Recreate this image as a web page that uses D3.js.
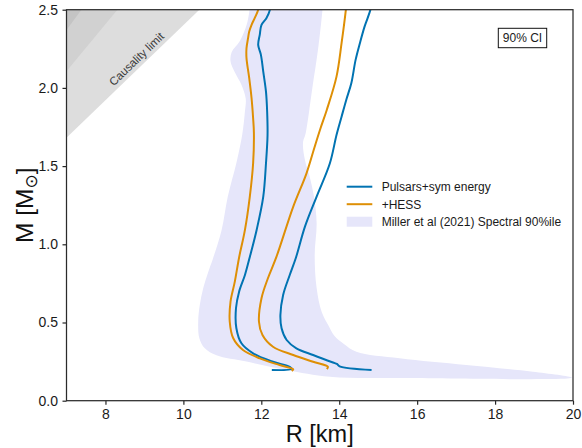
<!DOCTYPE html>
<html>
<head>
<meta charset="utf-8">
<script src="https://cdn.jsdelivr.net/npm/d3@7"></script>
<style>
  body { margin: 0; background: #fff; }
  svg { display: block; font-family: "Liberation Sans", Arial, sans-serif; }
</style>
</head>
<body>
<svg id="chart" width="582" height="448"></svg>
<script>
// Neutron-star mass–radius constraints. R in km, M in solar masses.
const xTicks = [8, 10, 12, 14, 16, 18, 20];
const yTicks = [0.0, 0.5, 1.0, 1.5, 2.0, 2.5];

// Compactness limits, R = factor * GM/c^2 (GM_sun/c^2 in km)
const rgSun = 1.4766;
const limitFactors = [2.82, 2.25, 2.0];
const limitFills = ["#dddddd", "#d1d1d1", "#c4c4c4"];
const limitLabel = "Causality limit";
const limitLabelAt = [8.795, 2.185];

// Miller et al (2021) spectral 90% region (closed outline)
const millerBand = [
  [11.75, 2.60], [11.70, 2.50], [11.62, 2.40], [11.45, 2.30], [11.24, 2.23], [11.21, 2.17],
  [11.32, 2.10], [11.49, 2.02], [11.60, 1.93], [11.58, 1.85], [11.51, 1.70], [11.36, 1.52],
  [11.14, 1.305], [10.98, 1.09], [10.76, 0.91], [10.64, 0.825], [10.51, 0.72], [10.42, 0.61],
  [10.38, 0.505], [10.41, 0.40], [10.55, 0.335], [10.85, 0.29], [11.62, 0.25], [12.65, 0.196],
  [13.76, 0.153], [15.55, 0.145], [19.91, 0.143], [19.97, 0.148], [18.97, 0.185], [17.26, 0.228],
  [15.55, 0.271], [14.44, 0.313], [14.12, 0.363], [13.88, 0.414], [13.73, 0.478], [13.55, 0.567],
  [13.42, 0.72], [13.37, 0.93], [13.42, 1.136], [13.35, 1.305], [13.24, 1.433], [13.12, 1.539],
  [13.07, 1.648], [13.14, 1.712], [13.31, 2.00], [13.46, 2.254], [13.57, 2.50], [13.60, 2.60]
];

// Pulsars + symmetry energy, 90% CI edges
const pulsarsLeft = [
  [12.22, 2.55], [12.22, 2.499], [12.13, 2.446], [12.005, 2.403], [11.96, 2.339], [11.92, 2.275],
  [11.99, 2.211], [12.05, 2.104], [12.12, 1.976], [12.15, 1.848], [12.16, 1.699], [12.12, 1.518],
  [12.05, 1.305], [11.88, 1.092], [11.705, 0.919], [11.58, 0.804], [11.43, 0.697], [11.35, 0.591],
  [11.36, 0.463], [11.49, 0.367], [11.79, 0.303], [12.30, 0.249], [12.73, 0.217], [12.78, 0.203],
  [12.27, 0.196]
];
const pulsarsRight = [
  [14.83, 2.55], [14.80, 2.499], [14.65, 2.392], [14.53, 2.286], [14.42, 2.179], [14.31, 2.030],
  [14.18, 1.923], [14.06, 1.816], [13.93, 1.699], [13.76, 1.518], [13.42, 1.305], [13.12, 1.113],
  [12.89, 0.916], [12.73, 0.804], [12.56, 0.676], [12.49, 0.548], [12.52, 0.463], [12.65, 0.388],
  [12.90, 0.335], [13.33, 0.292], [13.84, 0.244], [13.94, 0.235], [14.01, 0.219], [14.83, 0.196]
];

// + HESS, 90% CI edges
const hessLeft = [
  [11.94, 2.55], [11.92, 2.499], [11.83, 2.446], [11.75, 2.403], [11.69, 2.36], [11.66, 2.318],
  [11.62, 2.254], [11.62, 2.19], [11.69, 2.062], [11.75, 1.934], [11.79, 1.806], [11.81, 1.712],
  [11.79, 1.518], [11.705, 1.305], [11.58, 1.092], [11.43, 0.916], [11.32, 0.761], [11.21, 0.633],
  [11.19, 0.505], [11.28, 0.399], [11.53, 0.324], [11.96, 0.271], [12.47, 0.228], [12.82, 0.201],
  [12.78, 0.190]
];
const hessRight = [
  [14.19, 2.55], [14.17, 2.499], [14.06, 2.286], [13.93, 2.072], [13.68, 1.859], [13.52, 1.742],
  [13.37, 1.624], [13.16, 1.454], [12.82, 1.241], [12.39, 0.921], [12.17, 0.783], [12.005, 0.655],
  [11.94, 0.505], [12.03, 0.420], [12.30, 0.345], [12.82, 0.292], [13.33, 0.249], [13.71, 0.217],
  [13.68, 0.203]
];

const seriesNames = ["Pulsars+sym energy", "+HESS", "Miller et al (2021) Spectral 90%ile"];
const seriesColors = ["#0173b2", "#de8f05", "#e6e6fa"];
const annotationText = "90% CI";
const xLabel = "R [km]";

const svg = d3.select("#chart");
const x = d3.scaleLinear().domain([7, 20]).range([66.5, 573]);
const y = d3.scaleLinear().domain([0, 2.5]).range([400.7, 9.7]);

svg.append("defs").append("clipPath").attr("id", "plot-clip")
  .append("rect")
  .attr("x", x(7)).attr("y", y(2.5))
  .attr("width", x(20) - x(7)).attr("height", y(0) - y(2.5));

const plot = svg.append("g").attr("clip-path", "url(#plot-clip)");

// Compactness-limit wedges
limitFactors.forEach((f, i) => {
  const k = f * rgSun;
  const pts = [[7, 7 / k], [2.5 * k, 2.5], [7, 2.5]];
  plot.append("path")
    .attr("d", d3.line().x(d => x(d[0])).y(d => y(d[1]))(pts) + "Z")
    .attr("fill", limitFills[i]);
});

// Miller et al band
plot.append("path")
  .attr("d", d3.line().x(d => x(d[0])).y(d => y(d[1])).curve(d3.curveCatmullRomClosed.alpha(0.5))(millerBand))
  .attr("fill", seriesColors[2]);

// CI edges
const edge = d3.line().x(d => x(d[0])).y(d => y(d[1])).curve(d3.curveCatmullRom.alpha(0.5));
[[pulsarsLeft, 0], [pulsarsRight, 0], [hessLeft, 1], [hessRight, 1]].forEach(([pts, c]) => {
  plot.append("path")
    .attr("d", edge(pts))
    .attr("fill", "none")
    .attr("stroke", seriesColors[c])
    .attr("stroke-width", 2)
    .attr("stroke-linejoin", "round")
    .attr("stroke-linecap", "butt");
});

// Causality label, aligned with the wedge edge
{
  const k = limitFactors[0] * rgSun;
  const ang = Math.atan2(y(2.5) - y(7 / k), x(2.5 * k) - x(7)) * 180 / Math.PI;
  const lx = x(limitLabelAt[0]), ly = y(limitLabelAt[1]);
  svg.append("text")
    .attr("transform", `translate(${lx},${ly}) rotate(${ang})`)
    .attr("text-anchor", "middle")
    .attr("dy", "0.35em")
    .attr("font-size", 11.5)
    .attr("fill", "#3a3a3a")
    .text(limitLabel);
}

// Axes
const xAxis = svg.append("g")
  .attr("transform", `translate(0,${y(0)})`)
  .call(d3.axisBottom(x).tickValues(xTicks).tickSize(4).tickPadding(4).tickFormat(d3.format("d")));
const yAxis = svg.append("g")
  .attr("transform", `translate(${x(7)},0)`)
  .call(d3.axisLeft(y).tickValues(yTicks).tickSize(4).tickPadding(4.5).tickFormat(d3.format(".1f")));
[xAxis, yAxis].forEach(a => {
  a.select(".domain").remove();
  a.selectAll(".tick line").attr("stroke", "#262626").attr("stroke-width", 1.2);
  a.selectAll(".tick text").attr("fill", "#1a1a1a").attr("font-size", 14)
    .attr("font-family", "\"Liberation Sans\", Arial, sans-serif");
});

// Frame
svg.append("rect")
  .attr("x", x(7)).attr("y", y(2.5))
  .attr("width", x(20) - x(7)).attr("height", y(0) - y(2.5))
  .attr("fill", "none").attr("stroke", "#2b2b2b").attr("stroke-width", 1.25);

// Axis titles
svg.append("text")
  .attr("x", (x(7) + x(20)) / 2).attr("y", 442)
  .attr("text-anchor", "middle").attr("font-size", 23.5).attr("fill", "#111")
  .text(xLabel);

const yl = svg.append("text")
  .attr("transform", `translate(33,${(y(0) + y(2.5)) / 2}) rotate(-90)`)
  .attr("text-anchor", "middle").attr("font-size", 24.5).attr("fill", "#111");
yl.append("tspan").text("M [M");
yl.append("tspan").attr("font-size", 17).attr("dy", 4).attr("font-family", "DejaVu Sans").text("\u2299");
yl.append("tspan").attr("dy", -4).text("]");

// Legend
const legend = svg.append("g").attr("font-size", 12).attr("fill", "#1a1a1a");
const legY = [186.7, 204.2, 221.7];
seriesNames.forEach((name, i) => {
  if (i < 2) {
    legend.append("line")
      .attr("x1", 346.7).attr("x2", 372.3).attr("y1", legY[i]).attr("y2", legY[i])
      .attr("stroke", seriesColors[i]).attr("stroke-width", 2);
  } else {
    legend.append("rect")
      .attr("x", 346.7).attr("y", legY[i] - 5).attr("width", 25.6).attr("height", 10)
      .attr("fill", seriesColors[i]);
  }
  legend.append("text")
    .attr("x", 381.7).attr("y", legY[i]).attr("dy", "0.36em")
    .text(name);
});

// Confidence-level tag
svg.append("rect")
  .attr("x", 498.3).attr("y", 28.3).attr("width", 48.4).attr("height", 19.4)
  .attr("fill", "#fff").attr("stroke", "#111").attr("stroke-width", 1);
svg.append("text")
  .attr("x", 522.5).attr("y", 38).attr("dy", "0.36em")
  .attr("text-anchor", "middle").attr("font-size", 12).attr("fill", "#1a1a1a")
  .text(annotationText);
</script>
</body>
</html>
